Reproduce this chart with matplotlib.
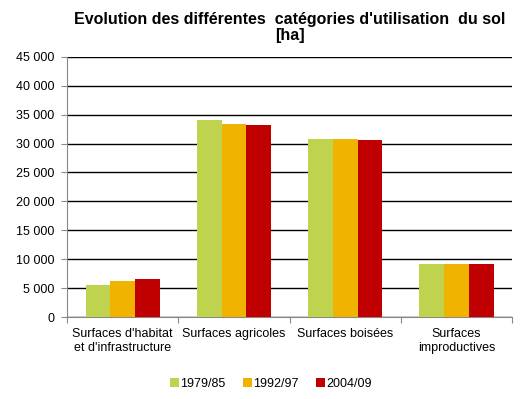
import matplotlib
matplotlib.use('Agg')
import matplotlib.pyplot as plt
import numpy as np
from matplotlib.ticker import FuncFormatter, FixedLocator

plt.rcParams['font.family'] = ['Liberation Sans', 'DejaVu Sans']

categories = ["Surfaces d'habitat\net d'infrastructure", 'Surfaces agricoles',
              'Surfaces boisées', 'Surfaces\nimproductives']
periods = ['1979/85', '1992/97', '2004/09']
v_1979 = [5550, 34100, 30800, 9200]
v_1992 = [6250, 33400, 30800, 9200]
v_2004 = [6600, 33250, 30650, 9200]
colors = ['#BFD34F', '#F0B400', '#C00000']

fig = plt.figure(figsize=(5.28, 3.99), dpi=100)
ax = fig.add_axes([0.127, 0.2055, 0.843, 0.652])

x = np.arange(len(categories))
w = 0.222
for i, (vals, lab, c) in enumerate(zip([v_1979, v_1992, v_2004], periods, colors)):
    ax.bar(x + (i - 1) * w, vals, width=w, color=c, label=lab, zorder=3)

ax.set_xlim(-0.5, len(categories) - 0.5)
ax.set_ylim(0, 45000)
ax.set_yticks(np.arange(0, 45001, 5000))
ax.yaxis.set_major_formatter(FuncFormatter(lambda v, p: f'{int(v):,}'.replace(',', ' ')))
ax.grid(axis='y', color='black', linewidth=1, zorder=0)

ax.xaxis.set_major_locator(FixedLocator(np.arange(-0.5, len(categories), 1.0)))
ax.set_xticklabels([])
ax.xaxis.set_minor_locator(FixedLocator(x))
ax.set_xticklabels(categories, minor=True)
ax.tick_params(axis='x', which='minor', length=0, pad=8, labelsize=9)
ax.tick_params(axis='x', which='major', length=4, color='#888888')
ax.tick_params(axis='y', length=4, color='#888888', labelsize=9, pad=5)

for s in ['top', 'right']:
    ax.spines[s].set_visible(False)
for s in ['left', 'bottom']:
    ax.spines[s].set_color('#888888')

ax.set_title("Evolution des différentes  catégories d'utilisation  du sol\n[ha]",
             fontsize=11.5, fontweight='bold', pad=12, linespacing=1.1)

ax.legend(loc='upper center', bbox_to_anchor=(0.458, -0.19), ncol=3, frameon=False,
          fontsize=9, handlelength=0.7, handleheight=0.7, handletextpad=0.1,
          columnspacing=1.4)

fig.savefig('out.png', dpi=100)
